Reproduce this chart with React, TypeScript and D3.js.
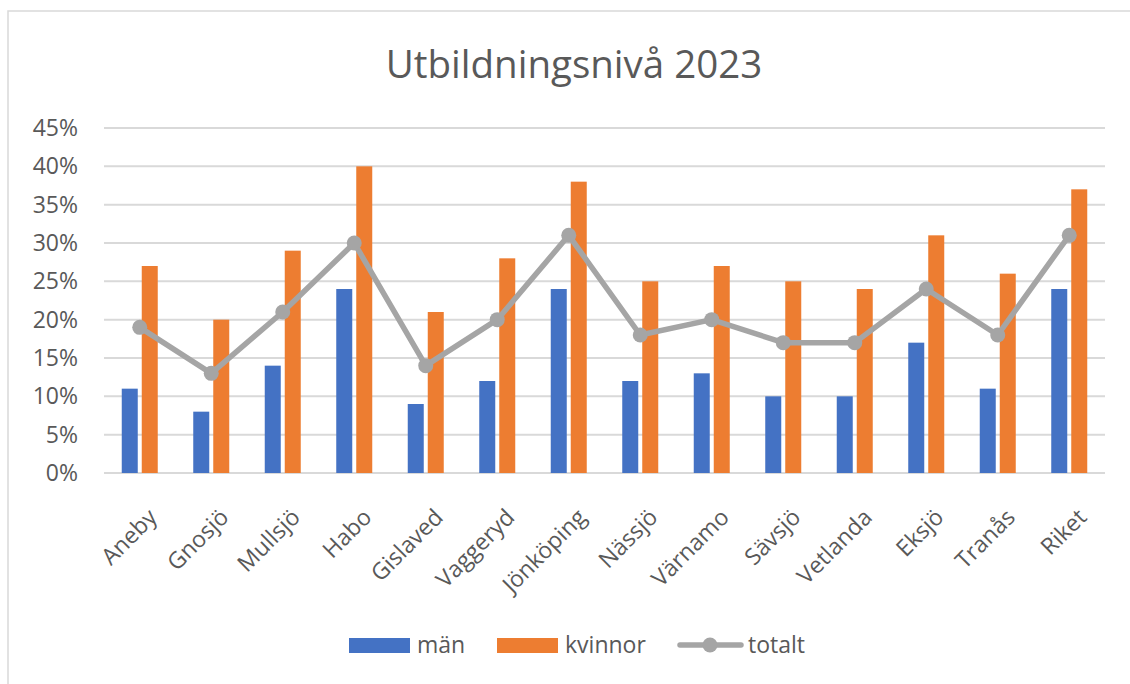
import React from "react";
import * as d3 from "d3";

const categories = [
  "Aneby", "Gnosjö", "Mullsjö", "Habo", "Gislaved", "Vaggeryd", "Jönköping",
  "Nässjö", "Värnamo", "Sävsjö", "Vetlanda", "Eksjö", "Tranås", "Riket"
];
const man = [11, 8, 14, 24, 9, 12, 24, 12, 13, 10, 10, 17, 11, 24];
const kvinnor = [27, 20, 29, 40, 21, 28, 38, 25, 27, 25, 24, 31, 26, 37];
const totalt = [19, 13, 21, 30, 14, 20, 31, 18, 20, 17, 17, 24, 18, 31];
const yTicks = [0, 5, 10, 15, 20, 25, 30, 35, 40, 45];
const seriesNames = ["män", "kvinnor", "totalt"];

const width = 1130;
const height = 684;
const font = "'Segoe UI', 'Open Sans', sans-serif";
const textColor = "#595959";
const gridColor = "#d9d9d9";
const blue = "#4472C4";
const orange = "#ED7D31";
const gray = "#A5A5A5";

const plot = { left: 104, right: 1105, top: 128, bottom: 473 };

const App = () => {
  const x = d3.scaleBand().domain(categories).range([plot.left, plot.right]);
  const y = d3.scaleLinear().domain([0, 45]).range([plot.bottom, plot.top]);
  const inner = d3
    .scaleBand()
    .domain(["män", "kvinnor"])
    .range([-18, 18])
    .paddingInner(0.2);
  const cx = (c: string) => (x(c) as number) + x.bandwidth() / 2;

  const line = d3
    .line<number>()
    .x((d, i) => cx(categories[i]))
    .y(d => y(d));

  return (
    <svg
      width={width}
      height={height}
      style={{ position: "absolute", left: 0, top: 0, background: "#fff" }}
      fontFamily={font}
    >
      <rect x={8} y={11} width={1140} height={700} fill="#fff" stroke={gridColor} strokeWidth={1.5} />

      <text x={574} y={78} textAnchor="middle" fontSize={38.5} fill={textColor}>
        Utbildningsnivå 2023
      </text>

      {yTicks.map(t => (
        <g key={t}>
          <line x1={plot.left} x2={plot.right} y1={y(t)} y2={y(t)} stroke={gridColor} strokeWidth={2} />
          <text x={78} y={y(t)} dy="0.35em" textAnchor="end" fontSize={23} fill={textColor}>
            {t}%
          </text>
        </g>
      ))}

      {categories.map((c, i) => (
        <g key={c}>
          <rect
            x={cx(c) + (inner("män") as number)}
            y={y(man[i])}
            width={inner.bandwidth()}
            height={y(0) - y(man[i])}
            fill={blue}
          />
          <rect
            x={cx(c) + (inner("kvinnor") as number)}
            y={y(kvinnor[i])}
            width={inner.bandwidth()}
            height={y(0) - y(kvinnor[i])}
            fill={orange}
          />
          <text
            transform={`translate(${cx(c) + 7},${plot.bottom + 34}) rotate(-45)`}
            textAnchor="end"
            dy="0.72em"
            fontSize={23}
            fill={textColor}
          >
            {c}
          </text>
        </g>
      ))}

      <path
        d={line(totalt) || ""}
        fill="none"
        stroke={gray}
        strokeWidth={5.5}
        strokeLinejoin="round"
        strokeLinecap="round"
      />
      {totalt.map((v, i) => (
        <circle key={i} cx={cx(categories[i])} cy={y(v)} r={7.5} fill={gray} />
      ))}

      <g fontSize={23} fill={textColor}>
        <rect x={349} y={638} width={61} height={15} fill={blue} />
        <text x={417} y={645} dy="0.35em">{seriesNames[0]}</text>
        <rect x={497} y={638} width={61} height={15} fill={orange} />
        <text x={565} y={645} dy="0.35em">{seriesNames[1]}</text>
        <line x1={680} x2={741} y1={645} y2={645} stroke={gray} strokeWidth={5.5} strokeLinecap="round" />
        <circle cx={710} cy={645} r={7.5} fill={gray} />
        <text x={748} y={645} dy="0.35em">{seriesNames[2]}</text>
      </g>
    </svg>
  );
};

export default App;
